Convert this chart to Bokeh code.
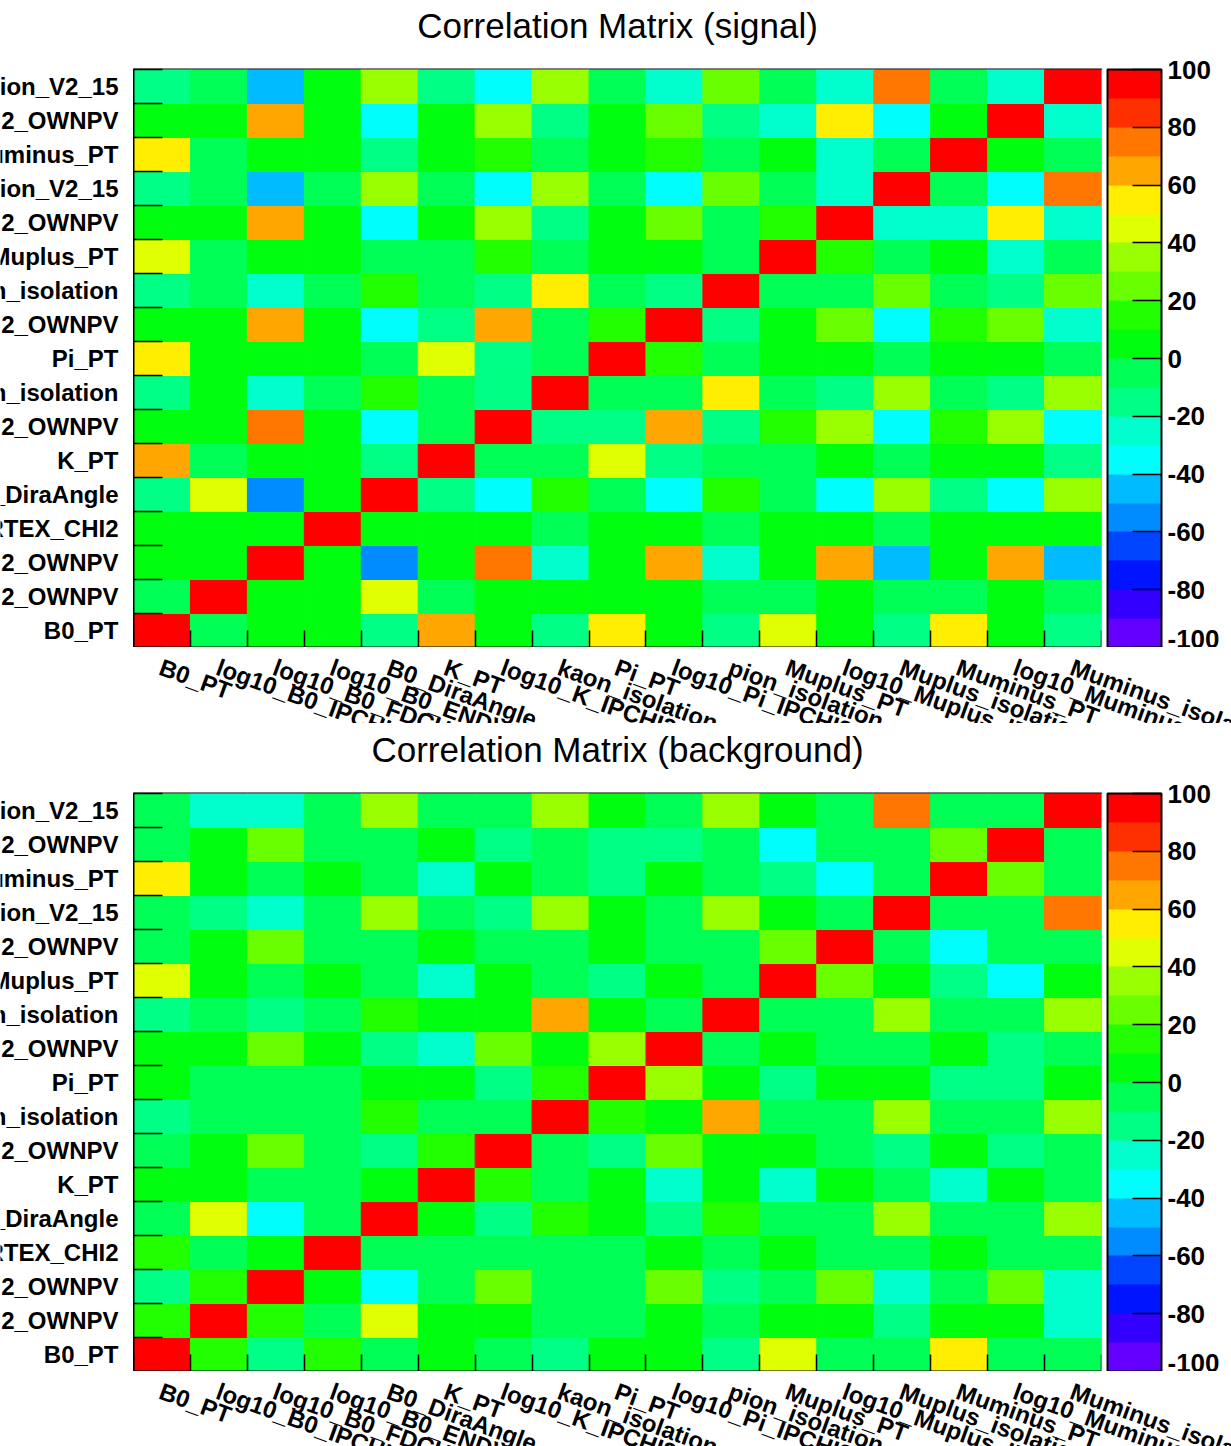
import colorsys
from bokeh.plotting import figure
from bokeh.models import (Range1d, FixedTicker, LinearColorMapper, ColorBar,
                          Title, ColumnDataSource)
from bokeh.layouts import column, row
from bokeh.transform import transform
from bokeh.core.properties import value
from bokeh.embed import file_html
from bokeh.resources import INLINE

# ---------------- data ----------------
variables = [
    "B0_PT", "log10_B0_IPCHI2_OWNPV", "log10_B0_FDCHI2_OWNPV",
    "log10_B0_ENDVERTEX_CHI2", "B0_DiraAngle", "K_PT",
    "log10_K_IPCHI2_OWNPV", "kaon_isolation", "Pi_PT",
    "log10_Pi_IPCHI2_OWNPV", "pion_isolation", "Muplus_PT",
    "log10_Muplus_IPCHI2_OWNPV", "Muplus_isolation_V2_15", "Muminus_PT",
    "log10_Muminus_IPCHI2_OWNPV", "Muminus_isolation_V2_15",
]

# correlation coefficients in %, row i = variables[i] (bottom to top), column j
signal_corr = [
    [100, -5, 4, 4, -15, 65, 4, -15, 55, 4, -15, 45, 4, -15, 55, 4, -15],
    [-5, 100, 4, 4, 45, -5, 4, 4, 4, 4, -5, -5, 4, -5, -5, 4, -5],
    [4, 4, 100, 4, -55, 4, 74, -25, 4, 65, -25, 4, 65, -45, 4, 65, -45],
    [4, 4, 4, 100, 4, 4, 4, -5, 4, 4, -5, 4, 4, -5, 4, 4, 4],
    [-15, 45, -55, 4, 100, -15, -35, 15, -5, -35, 15, -5, -35, 35, -15, -35, 35],
    [65, -5, 4, 4, -15, 100, -5, -5, 45, -15, -5, -5, 4, -5, 4, 4, -15],
    [4, 4, 74, 4, -35, -5, 100, -15, -15, 65, -15, 15, 35, -35, 15, 35, -35],
    [-15, 4, -25, -5, 15, -5, -15, 100, -5, -5, 55, -5, -15, 35, -5, -15, 35],
    [55, 4, 4, 4, -5, 45, -15, -5, 100, 15, -5, 4, 4, -5, 4, 4, -5],
    [4, 4, 65, 4, -35, -15, 65, -5, 15, 100, -15, 4, 25, -35, 15, 25, -25],
    [-15, -5, -25, -5, 15, -5, -15, 55, -5, -15, 100, -5, -5, 25, -5, -15, 25],
    [45, -5, 4, 4, -5, -5, 15, -5, 4, 4, -5, 100, 15, -5, 4, -25, -5],
    [4, 4, 65, 4, -35, 4, 35, -15, 4, 25, -5, 15, 100, -25, -25, 55, -25],
    [-15, -5, -45, -5, 35, -5, -35, 35, -5, -35, 25, -5, -25, 100, -5, -35, 74],
    [55, -5, 4, 4, -15, 4, 15, -5, 4, 15, -5, 4, -25, -5, 100, 4, -5],
    [4, 4, 65, 4, -35, 4, 35, -15, 4, 25, -15, -25, 55, -35, 4, 100, -25],
    [-15, -5, -45, 4, 35, -15, -35, 35, -5, -25, 25, -5, -25, 74, -5, -25, 100],
]

background_corr = [
    [100, 15, -15, 15, -5, 4, -5, -15, 4, 4, -15, 45, -5, -5, 55, -5, -5],
    [15, 100, 15, -5, 45, 4, 4, -5, -5, 4, -5, 4, 4, -15, 4, 4, -25],
    [-15, 15, 100, 4, -35, -5, 25, -5, -5, 25, -15, -5, 25, -25, -5, 25, -25],
    [15, -5, 4, 100, -5, -5, -5, -5, -5, 4, -5, 4, -5, -5, 4, -5, -5],
    [-5, 45, -35, -5, 100, 4, -15, 15, 4, -15, 15, -5, -5, 35, -5, -5, 35],
    [4, 4, -5, -5, 4, 100, 15, -5, 4, -25, 4, -25, 4, -5, -25, 4, -5],
    [-5, 4, 25, -5, -15, 15, 100, -5, -15, 25, 4, 4, -5, -15, 4, -15, -5],
    [-15, -5, -5, -5, 15, -5, -5, 100, 15, 4, 65, -5, -5, 35, -5, -5, 35],
    [4, -5, -5, -5, 4, 4, -15, 15, 100, 35, 4, -15, 4, 4, -15, -15, 4],
    [4, 4, 25, 4, -15, -25, 25, 4, 35, 100, -5, 4, -5, -5, 4, -15, -5],
    [-15, -5, -15, -5, 15, 4, 4, 65, 4, -5, 100, -5, -5, 35, -5, -5, 35],
    [45, 4, -5, 4, -5, -25, 4, -5, -15, 4, -5, 100, 25, 4, -15, -35, 4],
    [-5, 4, 25, -5, -5, 4, -5, -5, 4, -5, -5, 25, 100, -5, -35, -5, -5],
    [-5, -15, -25, -5, 35, -5, -15, 35, 4, -5, 35, 4, -5, 100, -5, -5, 74],
    [55, 4, -5, 4, -5, -25, 4, -5, -15, 4, -5, -15, -35, -5, 100, 25, -5],
    [-5, 4, 25, -5, -5, 4, -15, -5, -15, -15, -5, -35, -5, -5, 25, 100, -5],
    [-5, -25, -25, -5, 35, -5, -5, 35, 4, -5, 35, 4, -5, 74, -5, -5, 100],
]

colorbar_ticks = [-100, -80, -60, -40, -20, 0, 20, 40, 60, 80, 100]
titles = ["Correlation Matrix (signal)", "Correlation Matrix (background)"]


# ---------------- style ----------------
def root_palette(ncont=20, ncolors=50):
    """ROOT 'pretty' rainbow palette (hue 280 -> 0) sampled for ncont contours."""
    cols = []
    for j in range(ncont):
        idx = int((j + 0.99) * ncolors / ncont)
        hue = 280.0 - (idx + 1) * 280.0 / ncolors
        r, g, b = colorsys.hls_to_rgb(max(hue, 0) / 360.0, 0.5, 1.0)
        cols.append("#%02x%02x%02x" % (round(r * 255), round(g * 255), round(b * 255)))
    return cols


PALETTE = root_palette()
FONT = "Liberation Sans"
LABEL_SIZE = "24px"

PANEL_W, PANEL_H = 1231, 723
LEFT_W = 133          # strip holding the row names
FRAME_W, FRAME_H = 968, 578
RIGHT_W = PANEL_W - LEFT_W - FRAME_W


def bare_figure(**kw):
    f = figure(output_backend="svg", toolbar_location=None,
               x_axis_location=None, y_axis_location=None,
               min_border_left=0, min_border_right=0, frame_align=False, **kw)
    f.grid.visible = False
    f.outline_line_color = None
    f.background_fill_color = "white"
    f.border_fill_color = "white"
    return f


def make_panel(title, corr, top):
    n = len(variables)
    bottom = PANEL_H - top - FRAME_H
    xs, ys, vs = [], [], []
    for i in range(n):
        for j in range(n):
            xs.append(j + 0.5)
            ys.append(i + 0.5)
            vs.append(corr[i][j])

    mapper = LinearColorMapper(palette=PALETTE, low=-100, high=100)
    y_range = Range1d(0, n)

    # ---- main matrix ----
    p = figure(width=PANEL_W - LEFT_W, height=top + FRAME_H,
               x_range=Range1d(0, n), y_range=y_range,
               output_backend="svg", toolbar_location=None, frame_align=False,
               min_border_left=0, min_border_right=RIGHT_W,
               min_border_top=top, min_border_bottom=0)
    p.background_fill_color = "white"
    p.border_fill_color = "white"
    p.grid.visible = False
    p.outline_line_color = "black"
    p.outline_line_width = 2

    src = ColumnDataSource(dict(x=xs, y=ys, v=vs))
    p.rect("x", "y", width=1, height=1, source=src,
           fill_color=transform("v", mapper),
           line_color=transform("v", mapper), line_width=1)

    # tick marks at the bin edges, pointing into the frame
    for ax, tick_len in ((p.xaxis[0], 17), (p.yaxis[0], 29)):
        ax.ticker = FixedTicker(ticks=[], minor_ticks=list(range(n + 1)))
        ax.minor_tick_in = tick_len
        ax.minor_tick_out = 0
        ax.minor_tick_line_color = "black"
        ax.minor_tick_line_width = 1.5
        ax.major_tick_in = 0
        ax.major_tick_out = 0
        ax.major_label_standoff = 0
        ax.axis_line_color = "black"
        ax.axis_line_width = 2

    # narrow blank band between the frame and the colour scale
    gap = ColorBar(color_mapper=LinearColorMapper(palette=["#ffffff"], low=0, high=1),
                   ticker=FixedTicker(ticks=[]), width=6, padding=0, margin=0,
                   major_tick_in=0, major_tick_out=0, label_standoff=0,
                   major_tick_line_color=None, minor_tick_line_color=None,
                   bar_line_color=None, border_line_color=None,
                   background_fill_alpha=0)
    p.add_layout(gap, "right")

    cb = ColorBar(color_mapper=mapper,
                  ticker=FixedTicker(ticks=colorbar_ticks),
                  major_label_overrides={t: str(t) for t in colorbar_ticks},
                  width=54, padding=0, margin=0,
                  major_tick_in=29, major_tick_out=0,
                  major_tick_line_color="black", major_tick_line_width=1.5,
                  minor_tick_line_color=None,
                  bar_line_color="black", bar_line_width=2,
                  label_standoff=6,
                  major_label_text_font=FONT,
                  major_label_text_font_style="bold",
                  major_label_text_font_size="26px",
                  major_label_text_color="black",
                  border_line_color=None, background_fill_alpha=0)
    p.add_layout(cb, "right")

    p.title.text = title
    p.title.align = "center"
    p.title.vertical_align = "top"
    p.title.text_font = FONT
    p.title.text_font_style = "normal"
    p.title.text_font_size = "35px"
    p.title.text_color = "black"
    # blank line between title and frame, lifting the title toward the top edge
    spacer = Title(text=" ", text_font_size="5px")
    p.add_layout(spacer, "above")
    p.above = [spacer] + [a for a in p.above if a is not spacer]

    # ---- row names (left strip) ----
    yl = bare_figure(width=LEFT_W, height=top + FRAME_H,
                     x_range=Range1d(0, LEFT_W), y_range=y_range,
                     min_border_top=top, min_border_bottom=0)
    yl.text(x=[LEFT_W - 15] * n, y=[i + 0.5 for i in range(n)], text=variables,
            text_align="right", text_baseline="middle",
            text_font=value(FONT), text_font_style="bold",
            text_font_size=LABEL_SIZE, text_color="black")

    # ---- column names (full-width strip under the matrix, same column scale) ----
    px_per_col = FRAME_W / n
    xl = bare_figure(width=PANEL_W, height=bottom,
                     x_range=Range1d(-LEFT_W / px_per_col, (PANEL_W - LEFT_W) / px_per_col),
                     y_range=Range1d(bottom, 0),
                     min_border_top=0, min_border_bottom=0)
    xl.text(x=[j + 0.5 for j in range(n)], y=[6] * n, text=variables,
            angle=-20, angle_units="deg", x_offset=3,
            text_align="left", text_baseline="top",
            text_font=value(FONT), text_font_style="bold",
            text_font_size=LABEL_SIZE, text_color="black")

    return column(row(yl, p, spacing=0), xl, spacing=0)


panel1 = make_panel(titles[0], signal_corr, 69)
panel2 = make_panel(titles[1], background_corr, 70)
layout = column(panel1, panel2, spacing=0)

open("out.html", "w").write(file_html(layout, INLINE))
